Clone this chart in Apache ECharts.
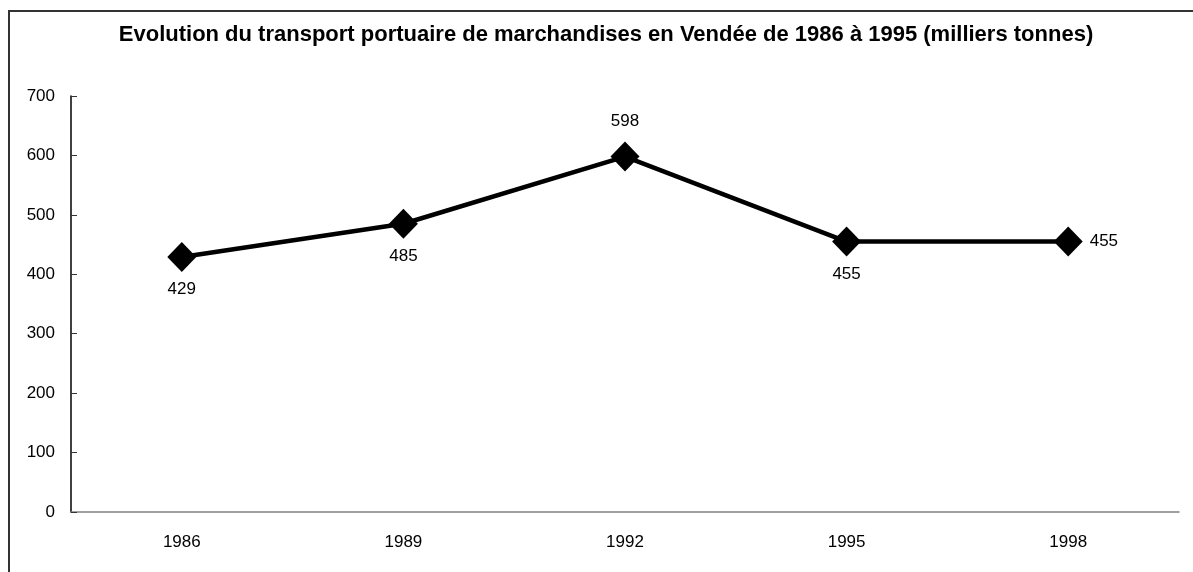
<!DOCTYPE html>
<html><head><meta charset="utf-8">
<script src="https://cdn.jsdelivr.net/npm/echarts@6/dist/echarts.min.js"></script>
<style>html,body{margin:0;padding:0;background:#fff}#c{width:1193px;height:572px}</style>
</head><body><div id="c"></div>
<script>
const title = "Evolution du transport portuaire de marchandises en Vendée de 1986 à 1995 (milliers tonnes)";
const categories = ["1986", "1989", "1992", "1995", "1998"];
const values = [429, 485, 598, 455, 455];
const labelPositions = ["bottom", "bottom", "top", "bottom", "right"];
const yTicks = { min: 0, max: 700, interval: 100 };

const FONT = '"Liberation Sans", Arial, sans-serif';
const labelDistance = { bottom: 9, top: 12, right: 7 };
const chart = echarts.init(document.getElementById('c'));
chart.setOption({
  animation: false,
  backgroundColor: '#fff',
  title: {
    text: title, left: 601, top: 19, textAlign: 'center',
    textStyle: { fontFamily: FONT, fontWeight: 'bold', fontSize: 22, color: '#000' }
  },
  grid: { left: 71, right: 14, top: 96, bottom: 60 },
  xAxis: {
    type: 'category', data: categories, boundaryGap: true,
    axisLine: { lineStyle: { color: '#808080', width: 1.5 } },
    axisTick: { inside: true, length: 6, lineStyle: { color: '#333' } },
    axisLabel: { fontFamily: FONT, fontSize: 17, color: '#000', margin: 22 },
    splitLine: { show: false }
  },
  yAxis: {
    type: 'value', min: yTicks.min, max: yTicks.max, interval: yTicks.interval,
    axisLine: { show: true, lineStyle: { color: '#000', width: 1.5 } },
    axisTick: { show: true, inside: true, length: 6, lineStyle: { color: '#333' } },
    axisLabel: { fontFamily: FONT, fontSize: 17, color: '#000', margin: 16 },
    splitLine: { show: false }
  },
  series: [{
    type: 'line',
    data: values.map((v, i) => ({ value: v, label: { position: labelPositions[i], distance: labelDistance[labelPositions[i]] } })),
    symbol: 'diamond', symbolSize: [29, 30],
    lineStyle: { color: '#000', width: 4.5 },
    itemStyle: { color: '#000' },
    label: { show: true, fontFamily: FONT, fontSize: 17, color: '#000' }
  }],
  graphic: [{
    type: 'polyline',
    shape: { points: [[9, 572], [9, 11], [1193, 11]] },
    style: { stroke: '#333', lineWidth: 2, fill: null }
  }]
});
</script></body></html>
